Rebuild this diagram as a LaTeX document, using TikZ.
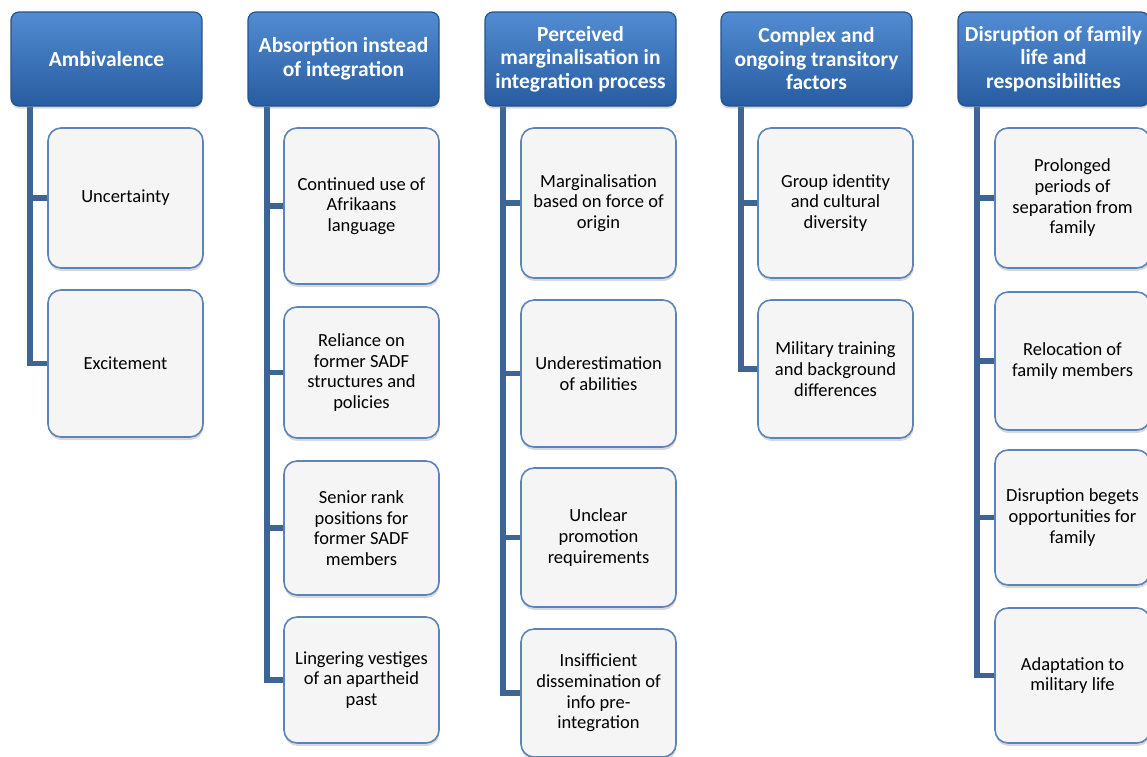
\documentclass[tikz,border=0pt]{standalone}
\usepackage{fontspec}
\setmainfont{Carlito}
\usetikzlibrary{shadows}
\pgfdeclarelayer{background}
\pgfsetlayers{background,main}
\definecolor{hdtop}{RGB}{82,140,210}
\definecolor{hdbot}{RGB}{40,92,160}
\definecolor{hdline}{RGB}{38,82,140}
\definecolor{kidfill}{RGB}{245,245,245}
\definecolor{kidline}{RGB}{92,132,184}
\definecolor{connc}{RGB}{62,100,150}
\begin{document}
\begin{tikzpicture}[x=1pt,y=-1pt,
  header/.style={rectangle, rounded corners=8pt, top color=hdtop, bottom color=hdbot,
    draw=hdline, line width=1.2pt, minimum width=191pt, minimum height=94pt,
    text=white, font=\fontsize{21.5}{23.5}\selectfont\bfseries, align=center, inner sep=0pt,
    drop shadow={opacity=0.3, shadow xshift=0pt, shadow yshift=-2.5pt}},
  kid/.style={rectangle, rounded corners=13pt, fill=kidfill, draw=kidline, line width=1.6pt,
    minimum width=155pt, text=black, font=\fontsize{18.5}{20.7}\selectfont, align=center,
    inner sep=0pt, drop shadow={opacity=0.3, shadow xshift=0.5pt, shadow yshift=-3pt}},
  connector/.style={draw=connc, line width=5.5pt}]
\useasboundingbox (0,0) rectangle (1147,756);

% headers
\node[header] (h1) at (106.5,59) {Ambivalence};
\node[header] (h2) at (343.5,59) {Absorption instead\\of integration};
\node[header] (h3) at (580.5,59) {Perceived\\marginalisation in\\integration process};
\node[header] (h4) at (816.5,59) {Complex and\\ongoing transitory\\factors};
\node[header] (h5) at (1053.5,59) {Disruption of family\\life and\\responsibilities};

% column 1
\node[kid, minimum height=140pt] (k11) at (125.5,198) {Uncertainty};
\node[kid, minimum height=147pt] (k12) at (125.5,363.5) {Excitement};
% column 2
\node[kid, minimum height=156pt] (k21) at (361.5,206) {Continued use of\\Afrikaans\\language};
\node[kid, minimum height=131pt] (k22) at (361.5,372.5) {Reliance on\\former SADF\\structures and\\policies};
\node[kid, minimum height=134pt] (k23) at (361.5,528) {Senior rank\\positions for\\former SADF\\members};
\node[kid, minimum height=126pt] (k24) at (361.5,680) {Lingering vestiges\\of an apartheid\\past};
% column 3
\node[kid, minimum height=150pt] (k31) at (598.5,203) {Marginalisation\\based on force of\\origin};
\node[kid, minimum height=147pt] (k32) at (598.5,373.5) {Underestimation\\of abilities};
\node[kid, minimum height=139pt] (k33) at (598.5,537.5) {Unclear\\promotion\\requirements};
\node[kid, minimum height=128pt] (k34) at (598.5,693) {Insifficient\\dissemination of\\info pre-\\integration};
% column 4
\node[kid, minimum height=150pt] (k41) at (835.5,203) {Group identity\\and cultural\\diversity};
\node[kid, minimum height=138pt] (k42) at (835.5,369) {Military training\\and background\\differences};
% column 5
\node[kid, minimum height=140pt] (k51) at (1072.5,198) {Prolonged\\periods of\\separation from\\family};
\node[kid, minimum height=138pt] (k52) at (1072.5,361) {Relocation of\\family members};
\node[kid, minimum height=135pt] (k53) at (1072.5,517.5) {Disruption begets\\opportunities for\\family};
\node[kid, minimum height=135pt] (k54) at (1072.5,675.5) {Adaptation to\\military life};

% vertical line anchors
\coordinate (v1) at (30,0);
\coordinate (v2) at (267,0);
\coordinate (v3) at (503,0);
\coordinate (v4) at (741,0);
\coordinate (v5) at (977,0);

\begin{pgfonlayer}{background}
\draw[connector] (v1 |- h1.south) |- (k12.west);
\draw[connector] (v1 |- k11.west) -- (k11.west);
\draw[connector] (v2 |- h2.south) |- (k24.west);
\draw[connector] (v2 |- k21.west) -- (k21.west);
\draw[connector] (v2 |- k22.west) -- (k22.west);
\draw[connector] (v2 |- k23.west) -- (k23.west);
\draw[connector] (v3 |- h3.south) |- (k34.west);
\draw[connector] (v3 |- k31.west) -- (k31.west);
\draw[connector] (v3 |- k32.west) -- (k32.west);
\draw[connector] (v3 |- k33.west) -- (k33.west);
\draw[connector] (v4 |- h4.south) |- (k42.west);
\draw[connector] (v4 |- k41.west) -- (k41.west);
\draw[connector] (v5 |- h5.south) |- (k54.west);
\draw[connector] (v5 |- k51.west) -- (k51.west);
\draw[connector] (v5 |- k52.west) -- (k52.west);
\draw[connector] (v5 |- k53.west) -- (k53.west);
\end{pgfonlayer}
\end{tikzpicture}
\end{document}
